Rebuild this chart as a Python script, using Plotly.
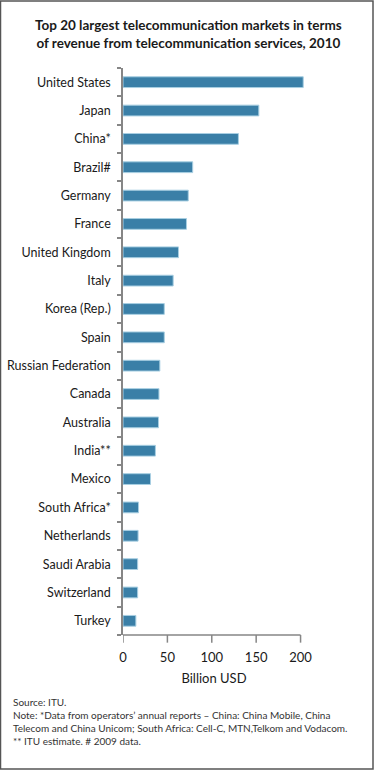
import plotly.graph_objects as go

countries = ["United States", "Japan", "China*", "Brazil#", "Germany", "France",
             "United Kingdom", "Italy", "Korea (Rep.)", "Spain", "Russian Federation",
             "Canada", "Australia", "India**", "Mexico", "South Africa*", "Netherlands",
             "Saudi Arabia", "Switzerland", "Turkey"]
revenue = [203, 153, 130, 78.5, 73.5, 71.5, 62.5, 56.5, 46.5, 46.5, 41.5,
           40.5, 40, 36.5, 31, 17.5, 17, 16.5, 16.5, 14.5]
x_ticks = [0, 50, 100, 150, 200]

FONT = "Lato"
GRAY = "#868686"

fig = go.Figure(go.Bar(
    x=revenue, y=countries, orientation="h",
    marker=dict(color="#3a7fa7", line=dict(color="#a8cfe2", width=1)),
    width=0.38,
))

fig.update_layout(
    width=376, height=772,
    margin=dict(l=123, r=71, t=68, b=137, autoexpand=False),
    paper_bgcolor="white", plot_bgcolor="white",
    font=dict(family=FONT, size=12, color="#1a1a1a"),
    showlegend=False,
    xaxis=dict(range=[0, 205], tickvals=x_ticks, ticktext=[str(v) for v in x_ticks],
               showgrid=False, zeroline=False, showline=False, automargin=False,
               ticks="", tickfont=dict(size=13, family=FONT), ticklabelstandoff=13,
               title=dict(text="Billion USD", font=dict(size=13, family=FONT), standoff=9)),
    yaxis=dict(categoryorder="array", categoryarray=countries[::-1], automargin=False,
               showgrid=False, zeroline=False, showline=True, linecolor=GRAY, linewidth=1.5,
               ticks="outside", ticklen=4, tickcolor=GRAY, tickwidth=1.5,
               tickson="boundaries", tickfont=dict(size=12.5, family=FONT), ticklabelstandoff=8),
    shapes=[
        # x-axis line and ticks
        dict(type="line", xref="x", yref="paper", x0=0, x1=200, y0=0, y1=0,
             line=dict(color=GRAY, width=1.5)),
        *[dict(type="line", xref="x", yref="paper", x0=v, x1=v, y0=0, y1=-0.0135,
               line=dict(color=GRAY, width=1.5)) for v in x_ticks],
        # outer border
        dict(type="rect", xref="paper", yref="paper",
             x0=-122.5/182, x1=1 + 68/182, y0=-134/567, y1=1 + 67/567,
             line=dict(color="#555", width=1.5)),
    ],
    annotations=[
        dict(text="<b>Top 20 largest telecommunication markets in terms<br>of revenue from telecommunication services, 2010</b>",
             xref="paper", yref="paper", x=65/182, y=1 + 34/567, xanchor="center", yanchor="middle",
             showarrow=False, align="center", font=dict(size=13.5, family=FONT, color="#1a1a1a")),
        dict(text="Source: ITU.<br>Note: *Data from operators’ annual reports – China: China Mobile, China<br>"
                  "Telecom and China Unicom; South Africa: Cell-C, MTN,Telkom and Vodacom.<br>"
                  "** ITU estimate. # 2009 data.",
             xref="paper", yref="paper", x=-112/182, y=-59/567, xanchor="left", yanchor="top",
             showarrow=False, align="left", font=dict(size=10, family=FONT, color="#333")),
    ],
)

fig.write_html("out.html", config={"displayModeBar": False},
               post_script="document.body.style.margin='0';document.body.style.overflow='hidden';")
